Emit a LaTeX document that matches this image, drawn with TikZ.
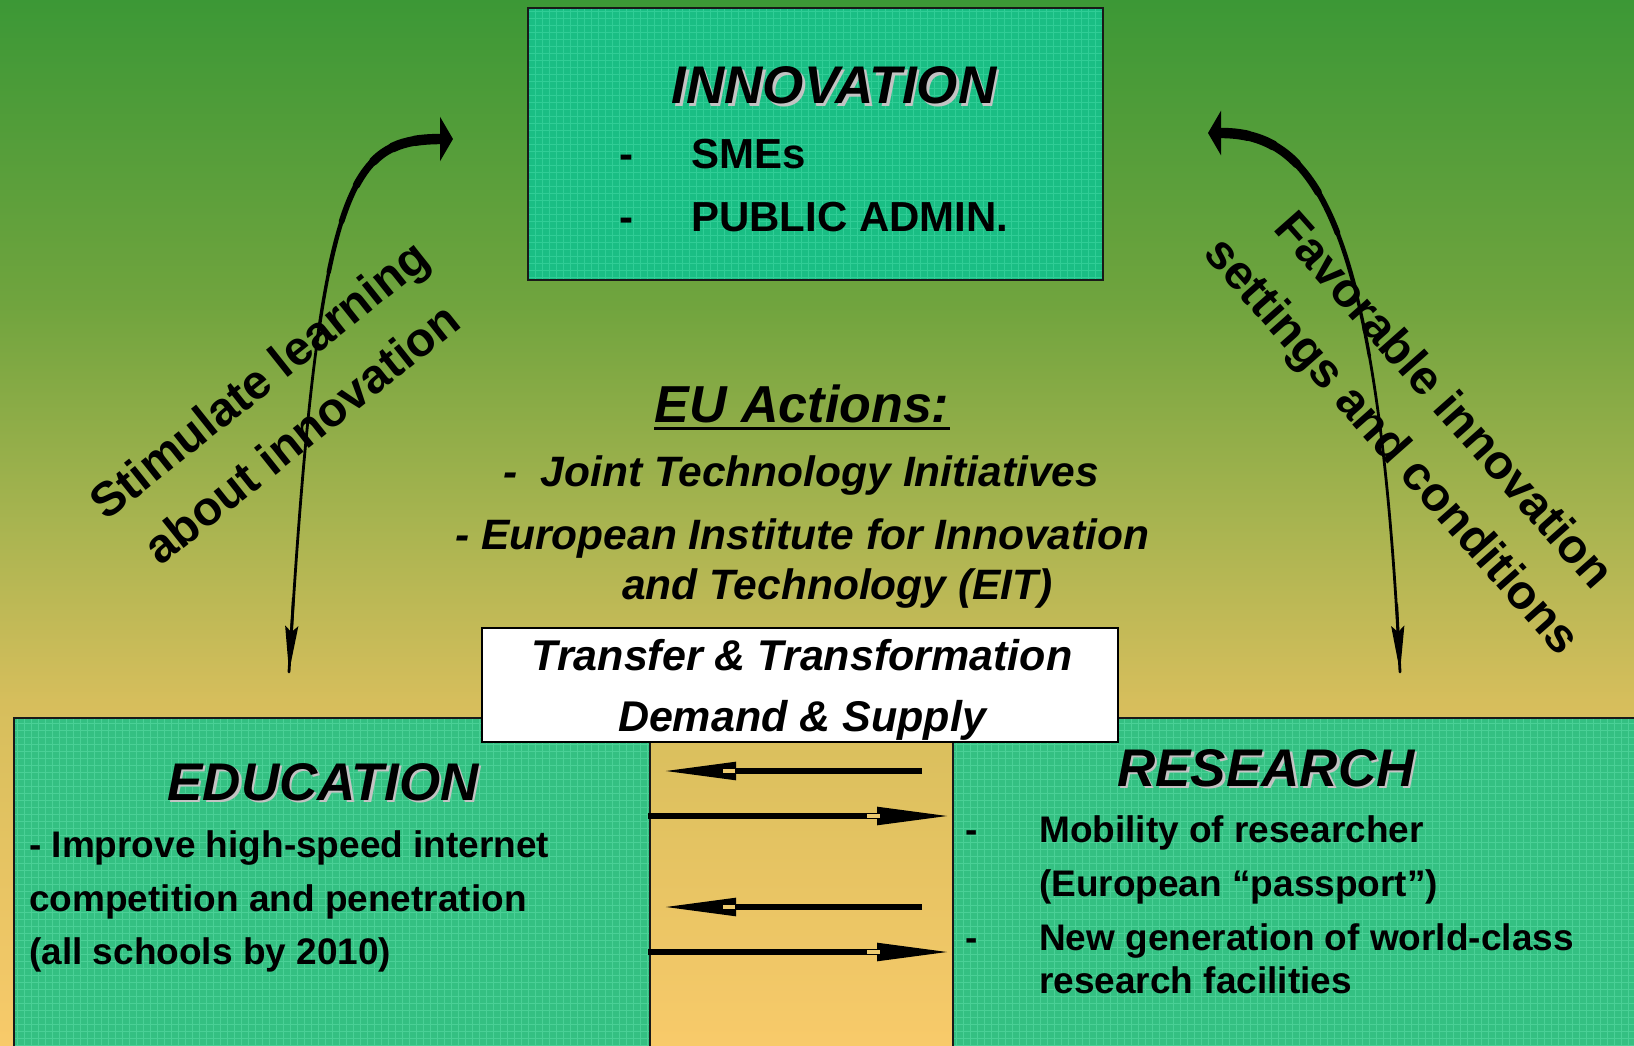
\documentclass[tikz,border=0pt]{standalone}
\usepackage{fontspec}
\setmainfont{Liberation Sans}
\usetikzlibrary{arrows.meta,calc}

\definecolor{bgTop}{RGB}{60,152,54}
\definecolor{bgUpper}{RGB}{112,164,62}
\definecolor{bgMid}{RGB}{168,180,80}
\definecolor{bgLow}{RGB}{214,190,92}
\definecolor{bgBottom}{RGB}{248,202,106}
\definecolor{innovFill}{RGB}{26,190,132}
\definecolor{innovGrid}{RGB}{48,205,150}
\definecolor{panelFill}{RGB}{52,192,130}
\definecolor{panelGrid}{RGB}{74,208,150}
\definecolor{shadowGray}{RGB}{195,195,195}
\definecolor{notchFill}{RGB}{236,202,112}

% the middle 50bp of the shading spans the filled rectangle
\pgfdeclareverticalshading{fieldbg}{100bp}{%
  color(0bp)=(bgBottom); color(25bp)=(bgBottom); color(41.5bp)=(bgLow);
  color(50bp)=(bgMid); color(60.5bp)=(bgUpper); color(75bp)=(bgTop);
  color(100bp)=(bgTop)}

% a cubic curve stroked in pieces of growing width
\newcommand{\taperedcurve}[4]{%
  \begin{pgfscope}
    \pgfsetroundcap\pgfsetroundjoin
    \foreach \ta/\tb/\wd in {0/0.3/2.8, 0.3/0.4/3.4, 0.4/0.5/4.4, 0.5/0.6/5.8,
                             0.6/0.7/7.4, 0.7/0.8/8.8, 0.8/0.9/9.8, 0.9/1/10.4}{%
      \pgfsetlinewidth{\wd pt}%
      \pgfpathcurvebetweentime{\ta}{\tb}{#1}{#2}{#3}{#4}%
      \pgfusepath{stroke}%
    }
  \end{pgfscope}}

\tikzset{
  innovbox/.style={draw=black!90, line width=2pt, fill=innovFill, anchor=north west,
    inner sep=0pt,
    path picture={\draw[innovGrid, line width=0.7pt, step=7pt]
      (path picture bounding box.south west) grid (path picture bounding box.north east);}},
  panelbox/.style={draw=black!90, line width=2pt, fill=panelFill, anchor=north west,
    inner sep=0pt,
    path picture={\draw[panelGrid, line width=0.7pt, step=7pt]
      (path picture bounding box.south west) grid (path picture bounding box.north east);}},
  whitebox/.style={draw=black, line width=2pt, fill=white, anchor=north west, inner sep=0pt},
  headline/.style={inner sep=0pt, anchor=base, font=\fontsize{53}{60}\selectfont\bfseries\itshape},
  euline/.style={inner sep=0pt, anchor=base west, font=\fontsize{42.5}{50}\selectfont\bfseries\itshape},
  transline/.style={inner sep=0pt, anchor=base, font=\fontsize{43}{50}\selectfont\bfseries\itshape},
  itemline/.style={inner sep=0pt, anchor=base west, font=\fontsize{42}{50}\selectfont\bfseries},
  bodyline/.style={inner sep=0pt, anchor=base west, font=\fontsize{37}{44}\selectfont\bfseries},
  sideline/.style={inner sep=0pt, align=center, font=\fontsize{48}{69}\selectfont\bfseries},
  flowarrow/.style={line width=5.5pt, -{Triangle[length=73pt,width=17pt]}},
  thinhead/.style={line width=2.8pt, -{Stealth[length=46pt,width=13pt,inset=6pt]}},
  widehead/.style={line width=10pt, -{Triangle[length=13pt,width=44pt]}},
}

\begin{document}
\begin{tikzpicture}[x=1pt,y=-1pt]
  \useasboundingbox (0,0) rectangle (1634,1046);
  \clip (0,0) rectangle (1634,1046);

  % background
  \shade[shading=fieldbg] (0,0) rectangle (1634,1046);

  % panels
  \node[panelbox, minimum width=636, minimum height=360] (edu) at (13,717) {};
  \node[panelbox, minimum width=720, minimum height=360] (res) at (952,717) {};
  \node[innovbox, minimum width=575, minimum height=272] (innov) at (527,7) {};
  \node[whitebox, minimum width=636, minimum height=114] (trans) at (481,627) {};

  % innovation texts
  \node[headline, text=shadowGray] (innovS) at (836.5,106.5) {INNOVATION};
  \node[headline] (innovT) at (834,104) {INNOVATION};
  \node[itemline] (innovD1) at (619,169) {-};
  \node[itemline] (innovI1) at (691,169) {SMEs};
  \node[itemline] (innovD2) at (619,231) {-};
  \node[itemline] (innovI2) at (691,231) {PUBLIC ADMIN.};

  % EU actions
  \node[headline, font=\fontsize{52}{60}\selectfont\bfseries\itshape] (euT) at (802,422) {EU Actions:};
  \draw[line width=3pt] ($(euT.base west)+(0,6)$) -- ($(euT.base east)+(0,6)$);
  \node[euline] (euA) at (503,486) {-\ \ Joint Technology Initiatives};
  \node[euline] (euB) at (455,549) {- European Institute for Innovation};
  \node[euline] (euC) at (622,599) {and Technology (EIT)};

  % transfer box texts
  \node[transline] (transA) at (802,670) {Transfer \& Transformation};
  \node[transline] (transB) at (802,731) {Demand \& Supply};

  % education texts
  \node[headline, text=shadowGray] (eduS) at (325.5,802.5) {EDUCATION};
  \node[headline] (eduT) at (323,800) {EDUCATION};
  \node[bodyline] (eduA) at (29,857) {- Improve high-speed internet};
  \node[bodyline] (eduB) at (29,911) {competition and penetration};
  \node[bodyline] (eduC) at (29,964) {(all schools by 2010)};

  % research texts
  \node[headline, text=shadowGray] (resS) at (1268.5,788.5) {RESEARCH};
  \node[headline] (resT) at (1266,786) {RESEARCH};
  \node[bodyline] (resD1) at (965,842) {-};
  \node[bodyline] (resA) at (1039,842) {Mobility of researcher};
  \node[bodyline] (resB) at (1039,896) {(European “passport”)};
  \node[bodyline] (resD2) at (965,950) {-};
  \node[bodyline] (resC) at (1039,950) {New generation of world-class};
  \node[bodyline] (resE) at (1039,993) {research facilities};

  % slanted captions
  \node[sideline, rotate=38.5] (learnT) at (280,406) {Stimulate learning\\about innovation};
  \node[sideline, rotate=-48.5] (favT) at (1416,425) {Favorable innovation\\settings and conditions};

  % curved two-way arrows
  \coordinate (lBot) at (289,672);
  \coordinate (lTop) at (453,139);
  \coordinate (rBot) at (1400,672);
  \coordinate (rTop) at (1208,133);

  \taperedcurve{\pgfpointanchor{lBot}{center}}{\pgfpointxy{318}{180}}{\pgfpointxy{350}{140}}{\pgfpointxy{440}{139}}
  \draw[thinhead] (293.4,598) -- (lBot);
  \draw[widehead] (430,139) -- (lTop);

  \taperedcurve{\pgfpointanchor{rBot}{center}}{\pgfpointxy{1378}{220}}{\pgfpointxy{1315}{133}}{\pgfpointxy{1221}{133}}
  \draw[thinhead] (1396.7,604) -- (rBot);
  \draw[widehead] (1231,133) -- (rTop);

  % exchange arrows between education and research
  \coordinate (a1s) at (922,771); \coordinate (a1e) at (663,771);
  \coordinate (a2s) at (648,816); \coordinate (a2e) at (950,816);
  \coordinate (a3s) at (922,907); \coordinate (a3e) at (663,907);
  \coordinate (a4s) at (648,952); \coordinate (a4e) at (950,952);
  \draw[flowarrow] (a1s) -- (a1e);
  \draw[flowarrow] (a2s) -- (a2e);
  \draw[flowarrow] (a3s) -- (a3e);
  \draw[flowarrow] (a4s) -- (a4e);
  \fill[notchFill] (723,769.2) rectangle (735,772.8);
  \fill[notchFill] (867,814.2) rectangle (880,817.8);
  \fill[notchFill] (723,905.2) rectangle (735,908.8);
  \fill[notchFill] (867,950.2) rectangle (880,953.8);
\end{tikzpicture}
\end{document}
